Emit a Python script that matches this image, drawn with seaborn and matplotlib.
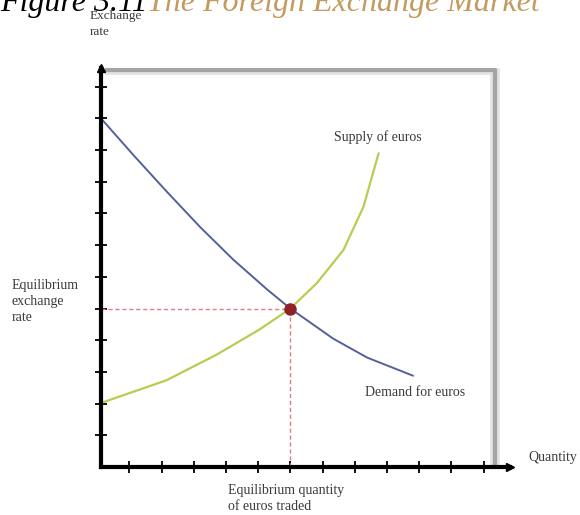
"""
Foreign exchange market: supply and demand for euros
"""

import numpy as np
import pandas as pd
import matplotlib
matplotlib.use("Agg")
import matplotlib.pyplot as plt
import seaborn as sns

# Curves (quantity and rate in tick units)
demand_q = [0.12, 1.12, 2.17, 3.20, 4.22, 5.28, 6.0, 7.33, 8.39, 9.81]
demand_rate = [11.0, 9.85, 8.68, 7.57, 6.55, 5.6, 5.0, 4.05, 3.45, 2.88]

supply_q = [0.12, 2.16, 3.72, 5.06, 6.0, 6.82, 7.65, 8.27, 8.74]
supply_rate = [2.02, 2.74, 3.55, 4.35, 5.0, 5.8, 6.85, 8.21, 9.9]

eq_q = 6
eq_rate = 5

x_ticks = list(range(1, 13))
y_ticks = list(range(1, 13))

TITLE_BLACK = "Figure 3.11"
TITLE_GOLD = "The Foreign Exchange Market"

W, H = 580, 515
X_MIN, X_MAX = 0.12, 12.82
Y_MIN, Y_MAX = 0, 12.59


def px(x, y):
    """pixel position -> figure fraction"""
    return x / W, 1 - y / H


sns.set_style("white")
plt.rcParams["font.family"] = ["Liberation Serif", "DejaVu Serif"]

fig = plt.figure(figsize=(5.8, 5.15), dpi=100)
ax = fig.add_axes([101 / W, 48 / H, 409 / W, 399 / H])

demand = pd.DataFrame({"q": demand_q, "rate": demand_rate})
supply = pd.DataFrame({"q": supply_q, "rate": supply_rate})

# plot frame with shadow
frame_x = [0.25, 12.36, 12.36]
frame_y = [12.52, 12.52, 0.05]
ax.plot(frame_x, frame_y, color="#e2e2e2", lw=7, solid_capstyle="butt", zorder=1)
ax.plot(frame_x, frame_y, color="#a4a4a4", lw=3, solid_capstyle="butt", zorder=1)

# equilibrium guides
ax.plot([X_MIN, eq_q], [eq_rate, eq_rate], color="#e27a88", lw=1, ls=(0, (3, 2)), zorder=2)
ax.plot([eq_q, eq_q], [Y_MIN, eq_rate], color="#e27a88", lw=1, ls=(0, (3, 2)), zorder=2)

sns.lineplot(data=demand, x="q", y="rate", sort=False, estimator=None,
             color="#55609a", lw=1.4, ax=ax, zorder=3)
sns.lineplot(data=supply, x="q", y="rate", sort=False, estimator=None,
             color="#b9cc52", lw=1.6, ax=ax, zorder=3)
ax.plot(eq_q, eq_rate, "o", color="#8e2226", markersize=8, zorder=4)

ax.set_xlim(X_MIN, X_MAX)
ax.set_ylim(Y_MIN, Y_MAX)
ax.set_xticks(x_ticks)
ax.set_yticks(y_ticks)
ax.set_xticklabels([])
ax.set_yticklabels([])
ax.set_xlabel("")
ax.set_ylabel("")
ax.tick_params(direction="inout", length=9, width=1.3, color="black",
               bottom=True, left=True)

for side in ("top", "right"):
    ax.spines[side].set_visible(False)
for side in ("left", "bottom"):
    ax.spines[side].set_linewidth(3)
    ax.spines[side].set_color("black")
    ax.spines[side].set_zorder(5)

# axis arrows
ax.plot(1, 0, ">k", transform=ax.transAxes, clip_on=False, markersize=6)
ax.plot(0, 1, "^k", transform=ax.transAxes, clip_on=False, markersize=6)

# labels
lab = dict(color="#3a3a3a", fontsize=10)
fig.text(*px(90, 10), "Exchange\nrate", ha="left", va="top", linespacing=1.45,
         color="#3a3a3a", fontsize=9.5)
fig.text(*px(378, 137), "Supply of euros", ha="center", va="center", **lab)
fig.text(*px(415, 392), "Demand for euros", ha="center", va="center", **lab)
fig.text(*px(528, 458), "Quantity", ha="left", va="center", **lab)
fig.text(*px(228, 484), "Equilibrium quantity\nof euros traded", ha="left", va="top",
         linespacing=1.3, **lab)
fig.text(*px(12, 279), "Equilibrium\nexchange\nrate", ha="left", va="top",
         linespacing=1.3, **lab)

# title, partly cut off at the top
fig.text(*px(0, 11), TITLE_BLACK, ha="left", va="baseline", fontsize=23,
         style="italic", color="black")
fig.text(*px(147, 11), TITLE_GOLD, ha="left", va="baseline", fontsize=23,
         style="italic", color="#c49a5e")

fig.savefig("out.png", dpi=100)
